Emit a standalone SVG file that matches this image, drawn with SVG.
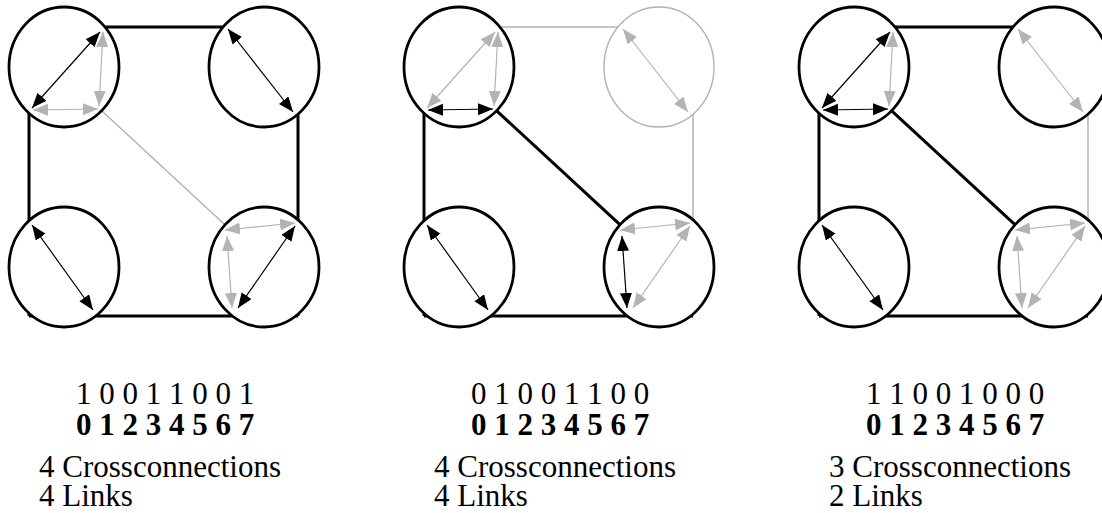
<svg xmlns="http://www.w3.org/2000/svg" width="1102" height="513" viewBox="0 0 1102 513">
<style>
.bg{fill:#fff}
.lk{stroke:#000;stroke-width:3;fill:none}
.lg{stroke:#b3b3b3;stroke-width:1.5;fill:none}
.nd{fill:#fff;stroke:#000;stroke-width:2.8}
.ndg{fill:#fff;stroke:#b3b3b3;stroke-width:1.4}
.ak{stroke:#000;stroke-width:1.2;marker-start:url(#hk);marker-end:url(#hk)}
.ag{stroke:#b3b3b3;stroke-width:1.2;marker-start:url(#hg);marker-end:url(#hg)}
.t{font-family:"Liberation Serif","Times New Roman",serif;font-size:31px;fill:#000}
.b{font-weight:bold}
</style>
<defs>
<marker id="hk" markerUnits="userSpaceOnUse" markerWidth="16" markerHeight="13" refX="15" refY="6" orient="auto-start-reverse"><path d="M0,0 L15,6 L0,12 z" fill="#000"/></marker>
<marker id="hg" markerUnits="userSpaceOnUse" markerWidth="16" markerHeight="13" refX="15" refY="6" orient="auto-start-reverse"><path d="M0,0 L15,6 L0,12 z" fill="#b3b3b3"/></marker>
</defs>
<rect class="bg" x="0" y="0" width="1102" height="513"/>

<!-- Panel 1 -->
<g id="panel1">
<g id="p1-connectors">
<line class="lk" x1="29" y1="27" x2="298" y2="27"/>
<line class="lk" x1="298" y1="27" x2="298" y2="316"/>
<line class="lk" x1="29" y1="316" x2="298" y2="316"/>
<line class="lk" x1="29" y1="27" x2="29" y2="316"/>
<line class="lg" x1="99" y1="108.3" x2="226" y2="225.7"/>
</g>
<g id="p1-node-tl">
<ellipse class="nd" cx="64" cy="67" rx="55" ry="60"/>
<line class="ak" x1="100" y1="32" x2="32" y2="108"/>
<line class="ag" x1="103" y1="32" x2="99" y2="106"/>
<line class="ag" x1="33" y1="110" x2="98" y2="109"/>
</g>
<g id="p1-node-tr">
<ellipse class="nd" cx="264" cy="67" rx="55" ry="60"/>
<line class="ak" x1="228" y1="29" x2="293" y2="112"/>
</g>
<g id="p1-node-bl">
<ellipse class="nd" cx="64" cy="267" rx="55" ry="60"/>
<line class="ak" x1="32" y1="225" x2="93" y2="310"/>
</g>
<g id="p1-node-br">
<ellipse class="nd" cx="264" cy="267" rx="55" ry="60"/>
<line class="ag" x1="225" y1="230" x2="295" y2="223"/>
<line class="ag" x1="227" y1="236" x2="232" y2="308"/>
<line class="ak" x1="295" y1="226" x2="238" y2="308"/>
</g>
<g id="p1-labels">
<text class="t" x="165" y="404" text-anchor="middle">1 0 0 1 1 0 0 1</text>
<text class="t b" x="165" y="435" text-anchor="middle">0 1 2 3 4 5 6 7</text>
<text class="t" x="39" y="477">4 Crossconnections</text>
<text class="t" x="39" y="506">4 Links</text>
</g>
</g>

<!-- Panel 2 -->
<g id="panel2" transform="translate(395,0)">
<g id="p2-connectors">
<line class="lg" x1="29" y1="27" x2="298" y2="27"/>
<line class="lg" x1="298" y1="27" x2="298" y2="316"/>
<line class="lk" x1="29" y1="316" x2="298" y2="316"/>
<line class="lk" x1="29" y1="27" x2="29" y2="316"/>
<line class="lk" x1="99" y1="108.3" x2="226" y2="225.7"/>
</g>
<g id="p2-node-tl">
<ellipse class="nd" cx="64" cy="67" rx="55" ry="60"/>
<line class="ag" x1="100" y1="32" x2="32" y2="108"/>
<line class="ag" x1="103" y1="32" x2="99" y2="106"/>
<line class="ak" x1="33" y1="110" x2="98" y2="109"/>
</g>
<g id="p2-node-tr">
<ellipse class="ndg" cx="264" cy="67" rx="55" ry="60"/>
<line class="ag" x1="228" y1="29" x2="293" y2="112"/>
</g>
<g id="p2-node-bl">
<ellipse class="nd" cx="64" cy="267" rx="55" ry="60"/>
<line class="ak" x1="32" y1="225" x2="93" y2="310"/>
</g>
<g id="p2-node-br">
<ellipse class="nd" cx="264" cy="267" rx="55" ry="60"/>
<line class="ag" x1="225" y1="230" x2="295" y2="223"/>
<line class="ak" x1="227" y1="236" x2="232" y2="308"/>
<line class="ag" x1="295" y1="226" x2="238" y2="308"/>
</g>
<g id="p2-labels">
<text class="t" x="165" y="404" text-anchor="middle">0 1 0 0 1 1 0 0</text>
<text class="t b" x="165" y="435" text-anchor="middle">0 1 2 3 4 5 6 7</text>
<text class="t" x="39" y="477">4 Crossconnections</text>
<text class="t" x="39" y="506">4 Links</text>
</g>
</g>

<!-- Panel 3 -->
<g id="panel3" transform="translate(790,0)">
<g id="p3-connectors">
<line class="lk" x1="29" y1="27" x2="298" y2="27"/>
<line class="lg" x1="298" y1="27" x2="298" y2="316"/>
<line class="lk" x1="29" y1="316" x2="298" y2="316"/>
<line class="lk" x1="29" y1="27" x2="29" y2="316"/>
<line class="lk" x1="99" y1="108.3" x2="226" y2="225.7"/>
</g>
<g id="p3-node-tl">
<ellipse class="nd" cx="64" cy="67" rx="55" ry="60"/>
<line class="ak" x1="100" y1="32" x2="32" y2="108"/>
<line class="ag" x1="103" y1="32" x2="99" y2="106"/>
<line class="ak" x1="33" y1="110" x2="98" y2="109"/>
</g>
<g id="p3-node-tr">
<ellipse class="nd" cx="264" cy="67" rx="55" ry="60"/>
<line class="ag" x1="228" y1="29" x2="293" y2="112"/>
</g>
<g id="p3-node-bl">
<ellipse class="nd" cx="64" cy="267" rx="55" ry="60"/>
<line class="ak" x1="32" y1="225" x2="93" y2="310"/>
</g>
<g id="p3-node-br">
<ellipse class="nd" cx="264" cy="267" rx="55" ry="60"/>
<line class="ag" x1="225" y1="230" x2="295" y2="223"/>
<line class="ag" x1="227" y1="236" x2="232" y2="308"/>
<line class="ag" x1="295" y1="226" x2="238" y2="308"/>
</g>
<g id="p3-labels">
<text class="t" x="165" y="404" text-anchor="middle">1 1 0 0 1 0 0 0</text>
<text class="t b" x="165" y="435" text-anchor="middle">0 1 2 3 4 5 6 7</text>
<text class="t" x="39" y="477">3 Crossconnections</text>
<text class="t" x="39" y="506">2 Links</text>
</g>
</g>
</svg>
